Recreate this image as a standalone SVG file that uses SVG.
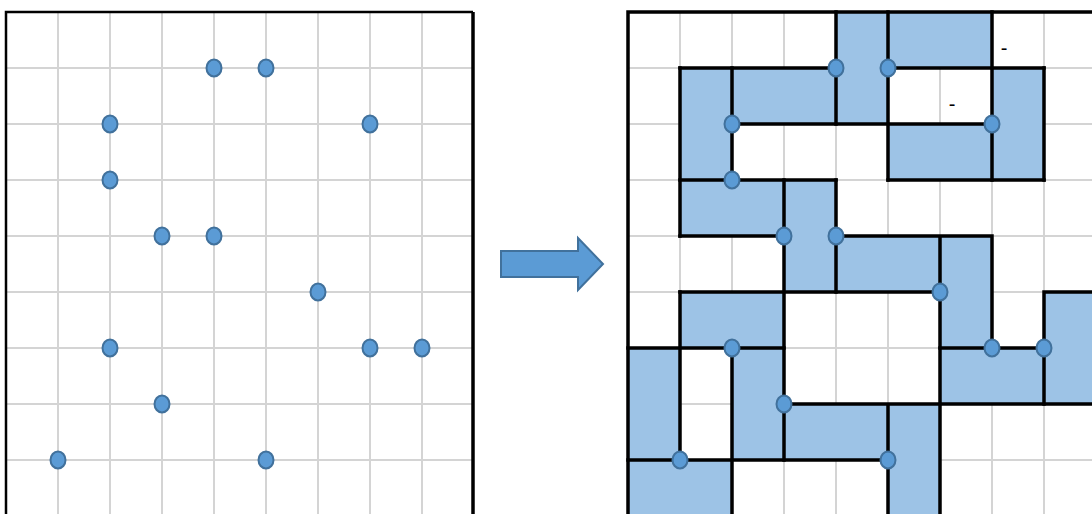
<svg xmlns="http://www.w3.org/2000/svg" width="1092" height="514" viewBox="0 0 1092 514">
<style>
.grid{stroke:#d4d4d4;stroke-width:2;fill:none}
.cell{fill:#9dc3e6;stroke:none}
.wall{stroke:#000;stroke-width:3.5;fill:none;stroke-linecap:square}
.dot{fill:#5b9bd5;stroke:#41719c;stroke-width:2}
.mark{font-family:"Liberation Sans",Arial,sans-serif;font-size:20px;fill:#000;text-anchor:middle}
</style>
<defs>
<ellipse id="d" class="dot" cx="0" cy="0" rx="7.5" ry="8.5"/>
</defs>
<rect x="0" y="0" width="1092" height="514" fill="#fff"/>
<g id="left-panel">
<path class="grid" d="M58 12V514M110 12V514M162 12V514M214 12V514M266 12V514M318 12V514M370 12V514M422 12V514M6 68H473M6 124H473M6 180H473M6 236H473M6 292H473M6 348H473M6 404H473M6 460H473"/>
<path d="M6 514V12H473" fill="none" stroke="#000" stroke-width="2.5"/>
<path d="M473 12V514" fill="none" stroke="#000" stroke-width="3.5"/>
<g id="left-dots">
<use href="#d" x="214" y="68"/><use href="#d" x="266" y="68"/>
<use href="#d" x="110" y="124"/><use href="#d" x="370" y="124"/>
<use href="#d" x="110" y="180"/>
<use href="#d" x="162" y="236"/><use href="#d" x="214" y="236"/>
<use href="#d" x="318" y="292"/>
<use href="#d" x="110" y="348"/><use href="#d" x="370" y="348"/><use href="#d" x="422" y="348"/>
<use href="#d" x="162" y="404"/>
<use href="#d" x="58" y="460"/><use href="#d" x="266" y="460"/>
</g>
</g>
<g id="arrow">
<path d="M501 251H578V238L603 264L578 290V277H501Z" fill="#5b9bd5" stroke="#41719c" stroke-width="2" stroke-linejoin="miter"/>
</g>
<g id="right-panel">
<path class="grid" d="M680 12V514M732 12V514M784 12V514M836 12V514M888 12V514M940 12V514M992 12V514M1044 12V514M628 68H1092M628 124H1092M628 180H1092M628 236H1092M628 292H1092M628 348H1092M628 404H1092M628 460H1092"/>
<g id="cells">
<rect class="cell" x="836" y="12" width="156" height="56"/>
<rect class="cell" x="680" y="68" width="208" height="56"/>
<rect class="cell" x="992" y="68" width="52" height="112"/>
<rect class="cell" x="680" y="124" width="52" height="56"/>
<rect class="cell" x="888" y="124" width="104" height="56"/>
<rect class="cell" x="680" y="180" width="156" height="56"/>
<rect class="cell" x="784" y="236" width="208" height="56"/>
<rect class="cell" x="680" y="292" width="104" height="56"/>
<rect class="cell" x="940" y="292" width="52" height="56"/>
<rect class="cell" x="1044" y="292" width="48" height="112"/>
<rect class="cell" x="940" y="348" width="104" height="56"/>
<rect class="cell" x="628" y="348" width="52" height="112"/>
<rect class="cell" x="732" y="348" width="52" height="56"/>
<rect class="cell" x="732" y="404" width="208" height="56"/>
<rect class="cell" x="628" y="460" width="104" height="56"/>
<rect class="cell" x="888" y="460" width="52" height="56"/>
</g>
<g id="walls">
<path class="wall" d="M628 514V12H1092"/>
<path class="wall" d="M836 12V124M888 12V180M992 12V180M1044 68V180"/>
<path class="wall" d="M680 68H836M888 68H1044M732 124H992M680 180H836M888 180H1044"/>
<path class="wall" d="M680 68V236M732 68V180M784 180V460M836 180V292"/>
<path class="wall" d="M680 236H784M836 236H992M992 236V348M940 236V514"/>
<path class="wall" d="M680 292H940M1044 292H1092M1044 292V404M940 348H1044M628 348H784"/>
<path class="wall" d="M784 404H1092M680 292V460M732 348V514M628 460H888M888 404V514"/>
</g>
<g id="right-dots">
<use href="#d" x="836" y="68"/><use href="#d" x="888" y="68"/>
<use href="#d" x="732" y="124"/><use href="#d" x="992" y="124"/>
<use href="#d" x="732" y="180"/>
<use href="#d" x="784" y="236"/><use href="#d" x="836" y="236"/>
<use href="#d" x="940" y="292"/>
<use href="#d" x="732" y="348"/><use href="#d" x="992" y="348"/><use href="#d" x="1044" y="348"/>
<use href="#d" x="784" y="404"/>
<use href="#d" x="680" y="460"/><use href="#d" x="888" y="460"/>
</g>
<text class="mark" x="1004" y="55">-</text>
<text class="mark" x="952" y="111">-</text>
</g>
</svg>
